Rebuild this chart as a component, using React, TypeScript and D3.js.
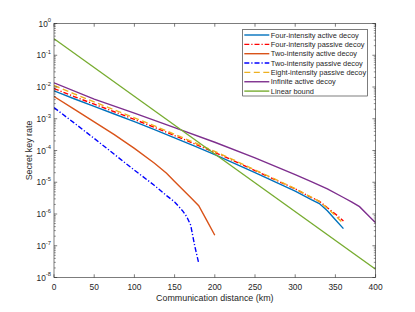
import React from 'react';
import * as d3 from 'd3';

// ---- data ----
const distFour = [0, 25, 50, 75, 100, 125, 150, 175, 200, 225, 250, 275, 300, 320, 330, 340, 350, 360];
const fourActive = [7.59e-3, 4.27e-3, 2.45e-3, 1.41e-3, 8.13e-4, 4.57e-4, 2.51e-4, 1.38e-4, 7.41e-5, 3.89e-5, 2.0e-5, 1.02e-5, 5.25e-6, 2.82e-6, 2.14e-6, 1.26e-6, 6.61e-7, 3.47e-7];
const fourPassive = [8.91e-3, 5.01e-3, 2.88e-3, 1.66e-3, 9.55e-4, 5.37e-4, 2.95e-4, 1.62e-4, 8.71e-5, 4.57e-5, 2.34e-5, 1.2e-5, 6.17e-6, 3.31e-6, 2.51e-6, 1.58e-6, 1.0e-6, 6.03e-7];
const eightPassive = [1.12e-2, 6.1e-3, 3.39e-3, 1.91e-3, 1.07e-3, 5.96e-4, 3.24e-4, 1.76e-4, 9.33e-5, 4.84e-5, 2.45e-5, 1.25e-5, 6.31e-6, 3.39e-6, 2.51e-6, 1.51e-6, 8.91e-7, 5.01e-7];

const distTwoActive = [0, 25, 50, 75, 100, 125, 140, 150, 160, 170, 180, 190, 200];
const twoActive = [5.01e-3, 2.0e-3, 7.94e-4, 3.16e-4, 1.17e-4, 3.98e-5, 1.91e-5, 1.05e-5, 5.89e-6, 3.31e-6, 1.82e-6, 6.31e-7, 2.14e-7];

const distTwoPassive = [0, 25, 50, 75, 100, 125, 140, 150, 160, 165, 170, 175, 180];
const twoPassive = [2.24e-3, 7.41e-4, 2.4e-4, 7.59e-5, 2.4e-5, 7.94e-6, 3.8e-6, 2.4e-6, 1.26e-6, 8.32e-7, 4.47e-7, 1.0e-7, 2.82e-8];

const distInfinite = [0, 50, 100, 150, 200, 250, 300, 320, 340, 360, 370, 380, 390, 400];
const infiniteActive = [1.35e-2, 4.17e-3, 1.51e-3, 5.25e-4, 1.82e-4, 5.89e-5, 1.74e-5, 1.05e-5, 6.17e-6, 3.31e-6, 2.4e-6, 1.7e-6, 9.55e-7, 5.25e-7];

const distLinear = [0, 400];
const linearBound = [3.31e-1, 1.82e-8];

const xTicks = [0, 50, 100, 150, 200, 250, 300, 350, 400];
const yExponents = [0, -1, -2, -3, -4, -5, -6, -7, -8];

const seriesNames = [
  'Four-intensity active decoy',
  'Four-intensity passive decoy',
  'Two-intensity active decoy',
  'Two-intensity passive decoy',
  'Eight-intensity passive decoy',
  'Infinite active decoy',
  'Linear bound',
];

const W = 415;
const H = 312;
const L = 54;
const R = 375.6;
const T = 23.5;
const B = 277.5;
const AX = '#262626';
const FONT = '"Liberation Sans", Arial, Helvetica, sans-serif';

export default function App() {
  const x = d3.scaleLinear().domain([0, 400]).range([L, R]);
  const y = d3.scaleLog().domain([1e-8, 1]).range([B, T]);

  const line = (ds: number[], vs: number[]) =>
    d3.line<number>().x((_, i) => x(ds[i])).y((v) => y(v))(vs) || '';

  const series = [
    { d: distFour, v: fourActive, color: '#0072BD', dash: undefined as string | undefined },
    { d: distFour, v: fourPassive, color: '#FF0000', dash: '5,2,1.2,2' },
    { d: distTwoActive, v: twoActive, color: '#D95319', dash: undefined },
    { d: distTwoPassive, v: twoPassive, color: '#0000FF', dash: '5,2,1.2,2' },
    { d: distFour, v: eightPassive, color: '#EDB120', dash: '6,3.5' },
    { d: distInfinite, v: infiniteActive, color: '#7E2F8E', dash: undefined },
    { d: distLinear, v: linearBound, color: '#77AC30', dash: undefined },
  ];

  const minor: number[] = [];
  for (let e = -8; e < 0; e++) {
    for (let m = 2; m <= 9; m++) minor.push(m * Math.pow(10, e));
  }

  const legX = 242.7;
  const legY = 29.3;
  const legW = 124.6;
  const legH = 66.7;
  const rowY0 = 35;
  const rowStep = 9.35;

  return (
    <svg width={W} height={H} style={{ position: 'absolute', left: 0, top: 0, background: '#fff' }} fontFamily={FONT}>
      <rect x={0} y={0} width={W} height={H} fill="#fff" />
      <defs>
        <clipPath id="plotclip">
          <rect x={L} y={T} width={R - L} height={B - T} />
        </clipPath>
      </defs>
      {/* series */}
      <g clipPath="url(#plotclip)">
        {series.map((s, i) => (
          <path key={i} d={line(s.d, s.v)} fill="none" stroke={s.color} strokeWidth={1.4} strokeDasharray={s.dash} />
        ))}
      </g>
      {/* axes box */}
      <rect x={L} y={T} width={R - L} height={B - T} fill="none" stroke={AX} strokeWidth={0.6} />
      {/* x ticks */}
      {xTicks.map((t) => (
        <g key={'x' + t}>
          <line x1={x(t)} x2={x(t)} y1={B} y2={B - 3.2} stroke={AX} strokeWidth={0.6} />
          <line x1={x(t)} x2={x(t)} y1={T} y2={T + 3.2} stroke={AX} strokeWidth={0.6} />
          <text x={x(t)} y={290} textAnchor="middle" fontSize={8.4} fill={AX}>{t}</text>
        </g>
      ))}
      {/* y major ticks */}
      {yExponents.map((e) => (
        <g key={'y' + e}>
          <line x1={L} x2={L + 3.2} y1={y(Math.pow(10, e))} y2={y(Math.pow(10, e))} stroke={AX} strokeWidth={0.6} />
          <line x1={R} x2={R - 3.2} y1={y(Math.pow(10, e))} y2={y(Math.pow(10, e))} stroke={AX} strokeWidth={0.6} />
          <text x={51} y={y(Math.pow(10, e)) + 3} textAnchor="end" fontSize={8.3} fill={AX}>
            10<tspan fontSize={5.8} dy={-4.2}>{e}</tspan>
          </text>
        </g>
      ))}
      {/* y minor ticks */}
      {minor.map((m, i) => (
        <g key={'m' + i}>
          <line x1={L} x2={L + 1.8} y1={y(m)} y2={y(m)} stroke={AX} strokeWidth={0.5} />
          <line x1={R} x2={R - 1.8} y1={y(m)} y2={y(m)} stroke={AX} strokeWidth={0.5} />
        </g>
      ))}
      {/* axis titles */}
      <text x={(L + R) / 2} y={301} textAnchor="middle" fontSize={8.9} fill={AX}>Communication distance (km)</text>
      <text transform={`translate(32,${(T + B) / 2}) rotate(-90)`} textAnchor="middle" fontSize={8.9} fill={AX}>Secret key rate</text>
      {/* legend */}
      <rect x={legX} y={legY} width={legW} height={legH} fill="#fff" stroke={AX} strokeWidth={0.6} />
      {series.map((s, i) => (
        <g key={'l' + i}>
          <line x1={244.3} x2={269.3} y1={rowY0 + i * rowStep} y2={rowY0 + i * rowStep} stroke={s.color} strokeWidth={1.4} strokeDasharray={s.dash} />
          <text x={270.8} y={rowY0 + i * rowStep + 2.6} fontSize={7.4} fill={AX}>{seriesNames[i]}</text>
        </g>
      ))}
    </svg>
  );
}
